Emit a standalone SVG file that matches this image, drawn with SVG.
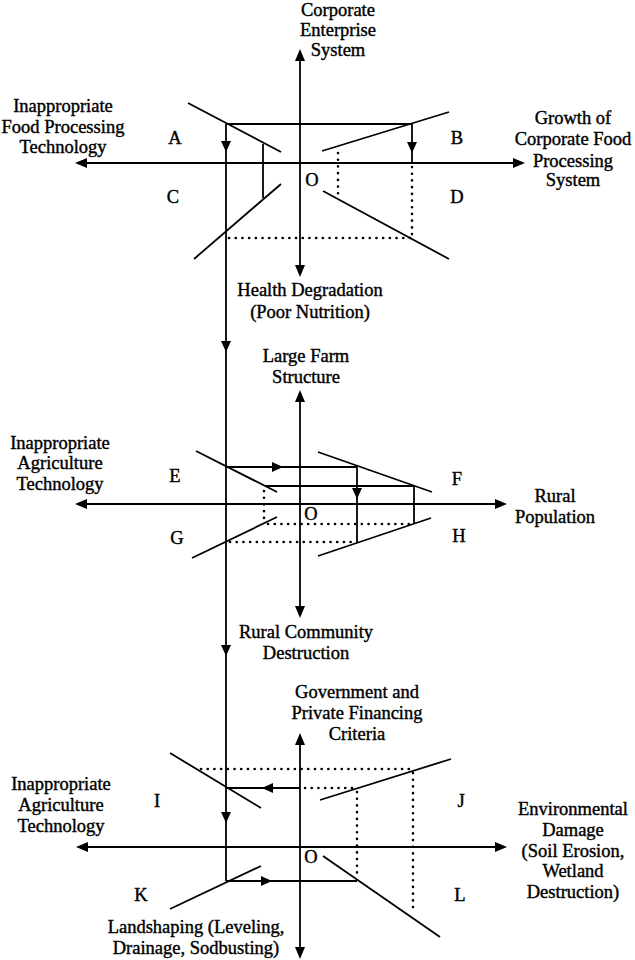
<svg xmlns="http://www.w3.org/2000/svg" width="635" height="960" viewBox="0 0 635 960">
<style>
.l{stroke:#000;stroke-width:1.8;fill:none;stroke-linecap:butt}
.d{stroke:#000;stroke-width:2.6;fill:none;stroke-dasharray:0.1 6.6;stroke-linecap:round}
.ah{fill:#000;stroke:none}
text{font-family:"Liberation Serif","Times New Roman",serif;font-size:18.5px;fill:#000;stroke:#000;stroke-width:0.4;text-anchor:middle}
</style>
<rect width="635" height="960" fill="#fff"/>

<g id="panel-top">
  <line class="l" x1="300" y1="55" x2="300" y2="271"/>
  <line class="l" x1="81" y1="163" x2="519" y2="163"/>
  <polygon class="ah" points="300,49 295,61 305,61"/>
  <polygon class="ah" points="300,277 295,265 305,265"/>
  <polygon class="ah" points="75,163 87,158 87,168"/>
  <polygon class="ah" points="525,163 513,158 513,168"/>
  <line class="l" x1="188" y1="103" x2="281" y2="152"/>
  <line class="l" x1="322" y1="151" x2="449" y2="112"/>
  <line class="l" x1="194" y1="259" x2="281" y2="184"/>
  <line class="l" x1="323" y1="191" x2="449" y2="259"/>
  <text x="175" y="144">A</text>
  <text x="457" y="144">B</text>
  <text x="173" y="203">C</text>
  <text x="457" y="203">D</text>
  <text x="312" y="186">O</text>
  <text x="338" y="16">Corporate</text>
  <text x="338" y="36">Enterprise</text>
  <text x="338" y="56">System</text>
  <text x="63" y="112">Inappropriate</text>
  <text x="63" y="133">Food Processing</text>
  <text x="63" y="153">Technology</text>
  <text x="573" y="124">Growth of</text>
  <text x="573" y="145">Corporate Food</text>
  <text x="573" y="167">Processing</text>
  <text x="573" y="186">System</text>
  <text x="310" y="296">Health Degradation</text>
  <text x="310" y="318">(Poor Nutrition)</text>
</g>

<g id="panel-middle">
  <line class="l" x1="300" y1="396" x2="300" y2="612"/>
  <line class="l" x1="81" y1="504" x2="501" y2="504"/>
  <polygon class="ah" points="300,390 295,402 305,402"/>
  <polygon class="ah" points="300,618 295,606 305,606"/>
  <polygon class="ah" points="75,504 87,499 87,509"/>
  <polygon class="ah" points="507,504 495,499 495,509"/>
  <line class="l" x1="196" y1="451" x2="277" y2="492"/>
  <line class="l" x1="318" y1="452" x2="432" y2="492"/>
  <line class="l" x1="192" y1="558" x2="277" y2="517"/>
  <line class="l" x1="318" y1="556" x2="431" y2="518"/>
  <text x="175" y="482">E</text>
  <text x="457" y="485">F</text>
  <text x="177" y="544">G</text>
  <text x="459" y="542">H</text>
  <text x="311" y="520">O</text>
  <text x="306" y="362">Large Farm</text>
  <text x="306" y="383">Structure</text>
  <text x="60" y="449">Inappropriate</text>
  <text x="60" y="469">Agriculture</text>
  <text x="60" y="490">Technology</text>
  <text x="555" y="502">Rural</text>
  <text x="555" y="523">Population</text>
  <text x="306" y="638">Rural Community</text>
  <text x="306" y="659">Destruction</text>
</g>

<g id="panel-bottom">
  <line class="l" x1="300" y1="739" x2="300" y2="953"/>
  <line class="l" x1="82" y1="847" x2="501" y2="847"/>
  <polygon class="ah" points="300,733 295,745 305,745"/>
  <polygon class="ah" points="300,959 295,947 305,947"/>
  <polygon class="ah" points="76,847 88,842 88,852"/>
  <polygon class="ah" points="507,847 495,842 495,852"/>
  <line class="l" x1="170" y1="753" x2="261" y2="808"/>
  <line class="l" x1="320" y1="800" x2="451" y2="759"/>
  <line class="l" x1="170" y1="909" x2="261" y2="866"/>
  <line class="l" x1="323" y1="856" x2="440" y2="937"/>
  <text x="157" y="807">I</text>
  <text x="461" y="807">J</text>
  <text x="141" y="901">K</text>
  <text x="460" y="901">L</text>
  <text x="311" y="863">O</text>
  <text x="357" y="698">Government and</text>
  <text x="357" y="719">Private Financing</text>
  <text x="357" y="740">Criteria</text>
  <text x="61" y="790">Inappropriate</text>
  <text x="61" y="811">Agriculture</text>
  <text x="61" y="832">Technology</text>
  <text x="573" y="815">Environmental</text>
  <text x="573" y="836">Damage</text>
  <text x="573" y="857">(Soil Erosion,</text>
  <text x="573" y="877">Wetland</text>
  <text x="573" y="898">Destruction)</text>
  <text x="196" y="933">Landshaping (Leveling,</text>
  <text x="196" y="954">Drainage, Sodbusting)</text>
</g>

<g id="connectors">
  <line class="l" x1="226" y1="124" x2="226" y2="881"/>
  <polygon class="ah" points="226,152 221,141 231,141"/>
  <polygon class="ah" points="226,352 221,341 231,341"/>
  <polygon class="ah" points="226,656 221,645 231,645"/>
  <polygon class="ah" points="226,823 221,812 231,812"/>
  <line class="l" x1="226" y1="124" x2="412" y2="124"/>
  <line class="l" x1="412" y1="124" x2="412" y2="163"/>
  <polygon class="ah" points="412,153 407,142 417,142"/>
  <line class="l" x1="263" y1="144" x2="263" y2="198"/>
  <line class="d" x1="338" y1="153" x2="338" y2="194"/>
  <line class="d" x1="412" y1="167" x2="412" y2="238"/>
  <line class="d" x1="229" y1="238" x2="412" y2="238"/>
  <line class="l" x1="226" y1="467" x2="357" y2="467"/>
  <polygon class="ah" points="283,467 272,462 272,472"/>
  <line class="l" x1="357" y1="467" x2="357" y2="543"/>
  <polygon class="ah" points="357,499 352,488 362,488"/>
  <line class="l" x1="265" y1="486" x2="414" y2="486"/>
  <line class="l" x1="414" y1="486" x2="414" y2="523"/>
  <line class="d" x1="264" y1="491" x2="264" y2="519"/>
  <line class="d" x1="268" y1="524" x2="412" y2="524"/>
  <line class="d" x1="230" y1="542" x2="354" y2="542"/>
  <line class="d" x1="201" y1="769" x2="413" y2="769"/>
  <line class="l" x1="226" y1="788" x2="300" y2="788"/>
  <polygon class="ah" points="262,788 273,783 273,793"/>
  <line class="d" x1="305" y1="788" x2="357" y2="788"/>
  <line class="d" x1="357" y1="792" x2="357" y2="878"/>
  <line class="d" x1="413" y1="773" x2="413" y2="913"/>
  <line class="l" x1="226" y1="881" x2="357" y2="881"/>
  <polygon class="ah" points="272,881 261,876 261,886"/>
</g>
</svg>
